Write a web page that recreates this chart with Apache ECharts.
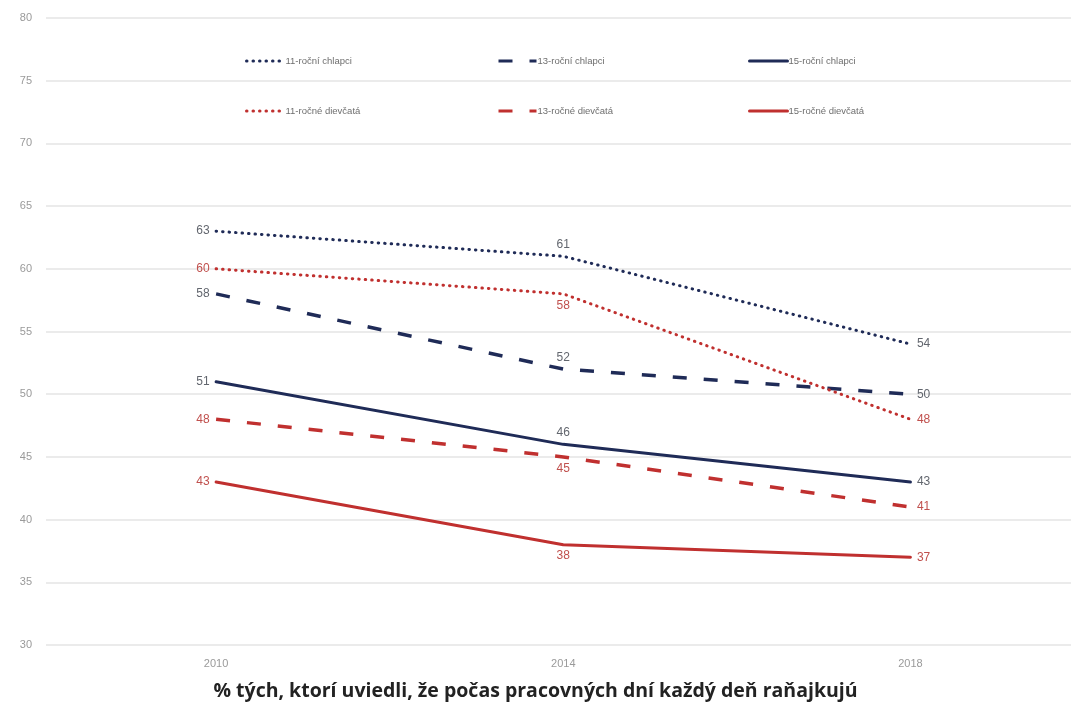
<!DOCTYPE html>
<html>
<head>
<meta charset="utf-8">
<script src="https://cdn.jsdelivr.net/npm/echarts@6/dist/echarts.min.js"></script>
<style>
  html, body { margin: 0; padding: 0; background: #fff; }
  #chart { width: 1071px; height: 716px; }
</style>
</head>
<body>
<div id="chart"></div>
<script>
// Survey years on the x axis
const years = [2010, 2014, 2018];

// Share (%) eating breakfast every weekday, by age group and sex
const boys11 = [63, 61, 54];
const boys13 = [58, 52, 50];
const boys15 = [51, 46, 43];
const girls11 = [60, 58, 48];
const girls13 = [48, 45, 41];
const girls15 = [43, 38, 37];

const seriesNames = [
  '11-roční chlapci', '13-roční chlapci', '15-roční chlapci',
  '11-ročné dievčatá', '13-ročné dievčatá', '15-ročné dievčatá'
];
const yTicks = [30, 35, 40, 45, 50, 55, 60, 65, 70, 75, 80];
const titleText = '% tých, ktorí uviedli, že počas pracovných dní každý deň raňajkujú';

const NAVY = '#1f2b57';
const RED = '#c0302f';
const BOY_LABEL = '#62666e';
const GIRL_LABEL = '#c0504d';
const FONT = 'Liberation Sans, Arial, sans-serif';

const dotted = { type: [0.5, 6], cap: 'round', width: 3 };
const dashed = { type: [14, 17], cap: 'butt', width: 3.5 };
const solid = { type: 'solid', cap: 'round', width: 3 };

function makeSeries(name, values, color, labelColor, style, midPos) {
  const positions = ['left', midPos, 'right'];
  return {
    name: name,
    type: 'line',
    symbol: 'circle',
    symbolSize: 1,
    showSymbol: true,
    silent: true,
    lineStyle: Object.assign({ color: color }, style),
    // invisible point markers; they only carry the value labels
    itemStyle: { color: 'rgba(0,0,0,0)', borderWidth: 0 },
    data: values.map((v, i) => ({
      value: [years[i], v],
      label: {
        show: true,
        position: positions[i],
        distance: i === 1 ? 5 : 6,
        formatter: String(v),
        color: labelColor,
        fontSize: 12,
        fontFamily: FONT
      }
    }))
  };
}

const series = [
  makeSeries(seriesNames[0], boys11, NAVY, BOY_LABEL, dotted, 'top'),
  makeSeries(seriesNames[1], boys13, NAVY, BOY_LABEL, dashed, 'top'),
  makeSeries(seriesNames[2], boys15, NAVY, BOY_LABEL, solid, 'top'),
  makeSeries(seriesNames[3], girls11, RED, GIRL_LABEL, dotted, 'bottom'),
  makeSeries(seriesNames[4], girls13, RED, GIRL_LABEL, dashed, 'bottom'),
  makeSeries(seriesNames[5], girls15, RED, GIRL_LABEL, solid, 'bottom')
];

// one legend per entry, laid out as a 3 x 2 block
const legendX = [240, 492, 743];
const legendY = [51, 101];
const legends = seriesNames.map((n, i) => ({
  data: [n],
  left: legendX[i % 3],
  top: legendY[Math.floor(i / 3)],
  itemWidth: 38,
  itemHeight: 10,
  itemGap: 2,
  selectedMode: false,
  itemStyle: { opacity: 0 },
  lineStyle: { width: 3 },
  textStyle: {
    color: '#6e6e6e',
    fontSize: 9.5,
    fontFamily: FONT,
    padding: [0, 0, 0, -4]
  }
}));

const chart = echarts.init(document.getElementById('chart'), null, { renderer: 'canvas' });
chart.setOption({
  animation: false,
  backgroundColor: '#ffffff',
  title: {
    text: titleText,
    left: 'center',
    top: 676,
    textStyle: {
      fontSize: 19.5,
      fontWeight: 'bold',
      color: '#222',
      fontFamily: 'Open Sans, Liberation Sans, sans-serif'
    }
  },
  legend: legends,
  grid: { left: 46, right: 0, top: 18, bottom: 71, containLabel: false },
  xAxis: {
    type: 'value',
    min: 2008.04,
    max: 2019.85,
    axisLine: { show: false },
    axisTick: { show: false },
    splitLine: { show: false },
    axisLabel: {
      customValues: years,
      formatter: v => String(v),
      color: '#9a9a9a',
      fontSize: 11,
      margin: 13,
      fontFamily: FONT
    }
  },
  yAxis: {
    type: 'value',
    min: 30,
    max: 80,
    interval: 5,
    axisLine: { show: false },
    axisTick: { show: false },
    splitLine: { lineStyle: { color: '#e4e4e4', width: 1.5 } },
    axisLabel: {
      customValues: yTicks,
      color: '#9a9a9a',
      fontSize: 11,
      margin: 14,
      fontFamily: FONT
    }
  },
  series: series
});
</script>
</body>
</html>
